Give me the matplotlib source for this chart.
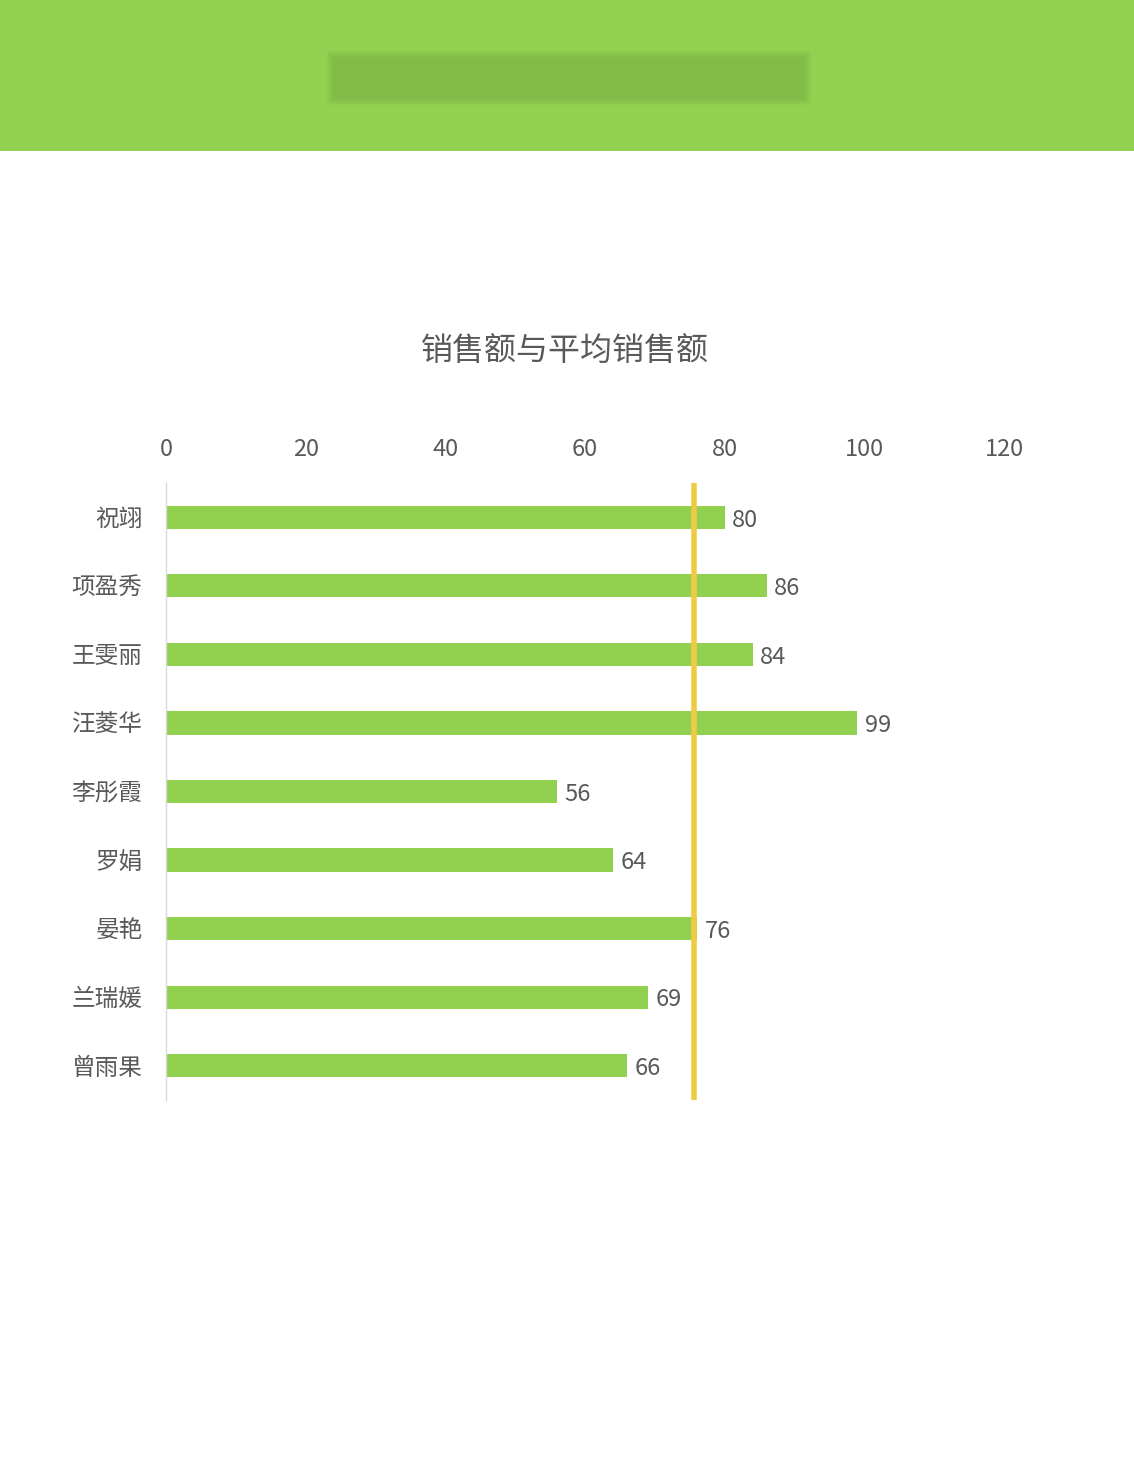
import numpy as np
import matplotlib.pyplot as plt
from matplotlib.patches import Rectangle

plt.rcParams['font.family'] = ['Noto Sans CJK SC', 'DejaVu Sans']
plt.rcParams['font.weight'] = 'light'

names = ['祝翊', '项盈秀', '王雯丽', '汪菱华', '李彤霞', '罗娟', '晏艳', '兰瑞媛', '曾雨果']
sales = [80, 86, 84, 99, 56, 64, 76, 69, 66]
x_ticks = [0, 20, 40, 60, 80, 100, 120]
title = '销售额与平均销售额'

green = '#92D050'
yellow = '#EFCB45'
text_gray = '#595959'

W, H = 1134, 1482
fig = plt.figure(figsize=(W / 100, H / 100), dpi=100)

# header band with blurred block
bg = fig.add_axes([0, 0, 1, 1], zorder=-1)
bg.set_xlim(0, W)
bg.set_ylim(H, 0)
bg.axis('off')
bg.add_patch(Rectangle((0, 0), W, 151, color=green, lw=0))
for i in range(8):
    g = 7 - i
    bg.add_patch(Rectangle((334 - g, 58 - g), 470 + 2 * g, 40 + 2 * g,
                           color='#7DB548', alpha=0.13, lw=0))

fig.text(0.498, 1 - 352 / H, title, ha='center', va='center',
         fontsize=23, color=text_gray)

ax = fig.add_axes([166 / W, 1 - 1100 / H, 838 / W, 617 / H])
y = np.arange(len(names))
ax.barh(y, sales, height=0.34, color=green, zorder=2)
avg = np.mean(sales)
ax.axvline(avg, color=yellow, lw=4, zorder=3)

for yi, v in zip(y, sales):
    ax.text(v + 1.1, yi + 0.04, str(v), va='center', ha='left',
            fontsize=17, color=text_gray)

ax.set_xlim(0, 120)
ax.set_ylim(len(names) - 0.5, -0.5)
ax.set_xticks(x_ticks)
ax.set_xticklabels([str(t) for t in x_ticks])
ax.set_yticks(y)
ax.set_yticklabels(names)
ax.xaxis.tick_top()
ax.tick_params(axis='x', length=0, pad=16, labelsize=17, labelcolor=text_gray)
ax.tick_params(axis='y', length=0, pad=17, labelsize=17, labelcolor=text_gray)
for s in ['top', 'right', 'bottom']:
    ax.spines[s].set_visible(False)
ax.spines['left'].set_color('#D9D9D9')
ax.spines['left'].set_linewidth(1)

fig.savefig('out.png', dpi=100)
